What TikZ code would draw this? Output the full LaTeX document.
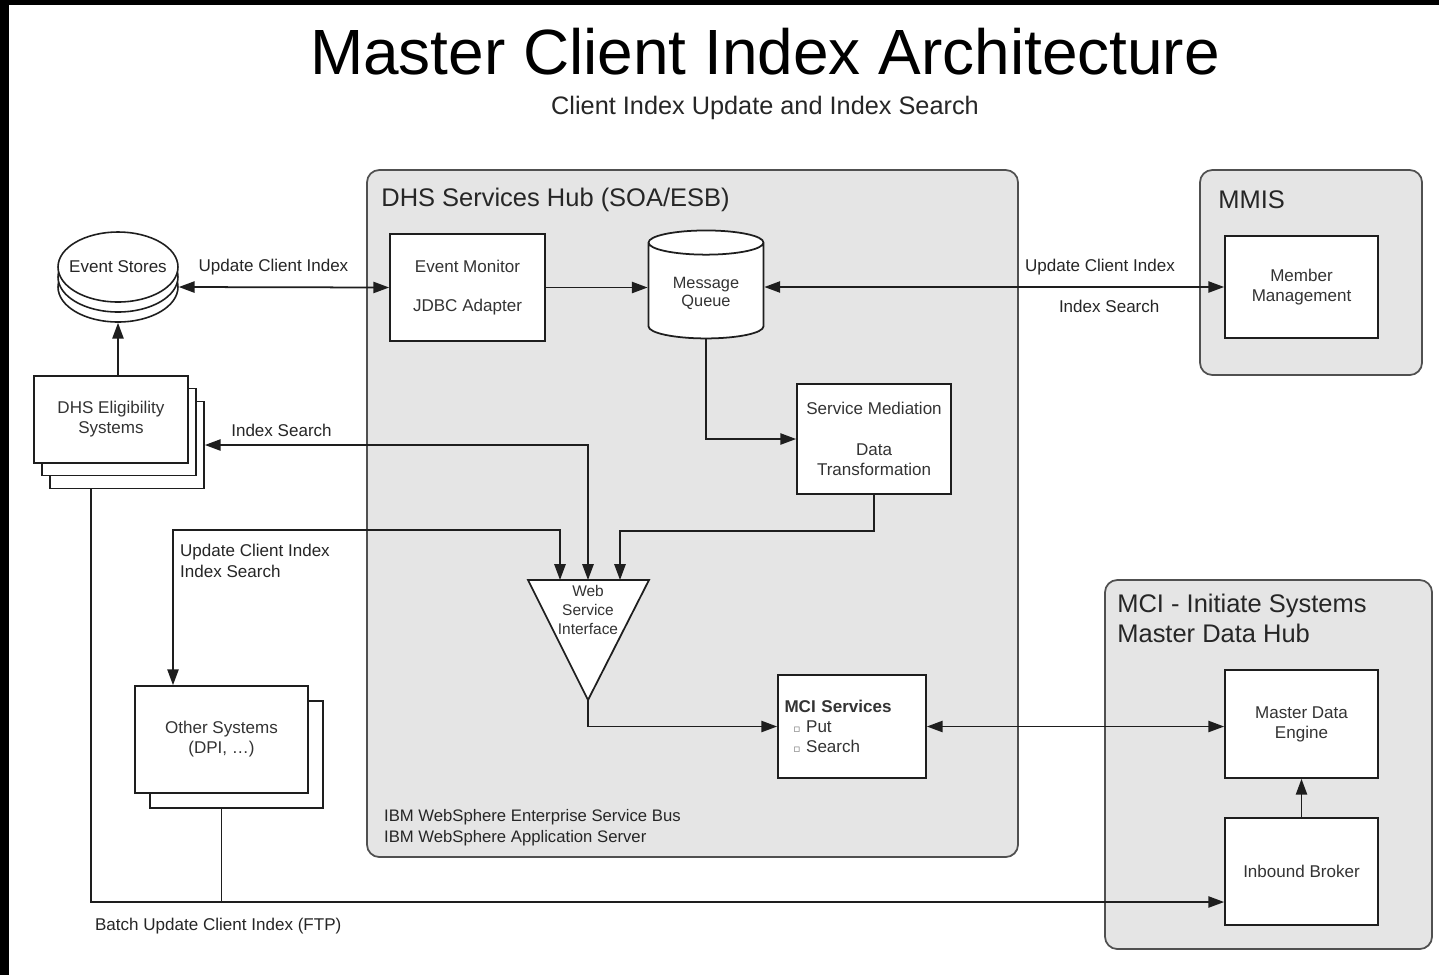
\documentclass[tikz,border=0pt]{standalone}
\usepackage{fontspec}
\setmainfont{Liberation Sans}
\newfontfamily\bulletfont{DejaVu Sans}
\usetikzlibrary{calc}
\usetikzlibrary{positioning}
\usetikzlibrary{shapes.geometric}
\usetikzlibrary{arrows.meta}
\definecolor{hub-gray}{RGB}{229, 229, 229}
\definecolor{edge-gray}{RGB}{80, 80, 80}
\definecolor{line-black}{RGB}{30, 30, 30}

\tikzset{
    hub/.style={fill=hub-gray, draw=edge-gray, line width=1pt, rounded corners=7pt},
    hubtitle/.style={anchor=west, inner sep=0pt, font=\fontsize{14.5}{17}\selectfont, text=black!85},
    box/.style={draw=line-black, fill=white, line width=1pt, inner sep=2pt, align=center, font=\fontsize{9.7}{11.4}\selectfont, text=black!80},
    store/.style={ellipse, draw=line-black, fill=white, line width=0.9pt, minimum width=2.4cm, minimum height=1.4cm, inner sep=0pt},
    lbl/.style={font=\fontsize{9.7}{12}\selectfont, text=black!85, inner sep=1pt},
    plain/.style={draw=line-black, line width=1pt},
    link/.style={plain, arrows={-Triangle[length=9pt, width=6.4pt]}},
    dlink/.style={plain, arrows={Triangle[length=9pt, width=6.4pt]-Triangle[length=9pt, width=6.4pt]}},
}

\begin{document}
\begin{tikzpicture}[x=0.02cm, y=-0.02cm]
    \useasboundingbox (0,0) rectangle (1439,975);
    \fill[white] (0,0) rectangle (1439,975);
    \fill[black] (0,0) rectangle (1439,5);
    \fill[black] (0,0) rectangle (9,975);

    \node[font=\fontsize{36.4}{40}\selectfont] (title) at (765,52) {Master Client Index Architecture};
    \node[font=\fontsize{14.4}{17}\selectfont, text=black!85] (subtitle) at (765,108) {Client Index Update and Index Search};

    % containers
    \draw[hub] (367,170) rectangle (1018,857);
    \draw[hub] (1200,170) rectangle (1422,375);
    \draw[hub] (1105,580) rectangle (1432,949);
    \node[hubtitle] (hub-title) at (381,200) {DHS Services Hub (SOA/ESB)};
    \node[hubtitle] (mmis-title) at (1218,200) {MMIS};
    \node[hubtitle, anchor=north west, align=left] (mci-title) at (1117,594) {MCI - Initiate Systems\\Master Data Hub};
    \node[lbl, anchor=north west, align=left, font=\fontsize{9.5}{12}\selectfont] (platform) at (382,807) {IBM WebSphere Enterprise Service Bus\\IBM WebSphere Application Server};

    % left side
    \node[store] (store3) at (118,287) {};
    \node[store] (store2) at (118,277) {};
    \node[store, label={[lbl]center:Event Stores}] (store) at (118,267) {};
    \node[box, minimum width=3.08cm, minimum height=1.74cm] (elig3) at (127,445) {};
    \node[box, minimum width=3.08cm, minimum height=1.74cm] (elig2) at (119,432) {};
    \node[box, minimum width=3.08cm, minimum height=1.74cm] (elig) at (111,419.5) {DHS Eligibility\\Systems};
    \node[box, minimum width=3.46cm, minimum height=2.14cm] (others2) at (236.5,754.5) {};
    \node[box, minimum width=3.46cm, minimum height=2.14cm] (others) at (221.5,739.5) {Other Systems\\(DPI, …)};

    % hub
    \node[box, minimum width=3.1cm, minimum height=2.14cm] (monitor) at (467.5,287.5) {Event Monitor\\[10.4pt]JDBC Adapter};
    \node[box, cylinder, shape border rotate=90, aspect=0.33, minimum width=2.3cm, minimum height=2.16cm, font=\fontsize{9.3}{10.3}\selectfont] (queue) at (706,293) {Message\\Queue};
    \node[box, minimum width=3.08cm, minimum height=2.2cm] (mediation) at (874,439) {Service Mediation\\[11.7pt]Data\\Transformation};
    \coordinate (wsi-nw) at (528,580);
    \coordinate (wsi-ne) at (649,580);
    \coordinate (wsi-apex) at (588,700);
    \coordinate (wsi-l) at (560,580);
    \coordinate (wsi-c) at (588,580);
    \coordinate (wsi-r) at (620,580);
    \draw[plain, fill=white] (wsi-nw) -- (wsi-ne) -- (wsi-apex) -- cycle;
    \node[align=center, inner sep=0pt, font=\fontsize{8.8}{10.8}\selectfont, text=black!80] (wsi) at (588,610) {Web\\Service\\Interface};
    \node[box, minimum width=2.96cm, minimum height=2.06cm, text width=2.7cm, align=left] (mci) at (852,726.5) {\textbf{MCI Services}\\\hspace*{5pt}{\bulletfont\fontsize{6}{8}\selectfont\color{black!55}▫} Put\\\hspace*{5pt}{\bulletfont\fontsize{6}{8}\selectfont\color{black!55}▫} Search};

    % right side
    \node[box, minimum width=3.06cm, minimum height=2.04cm] (member) at (1301.5,287) {Member\\Management};
    \node[box, minimum width=3.06cm, minimum height=2.16cm] (engine) at (1301.5,724) {Master Data\\Engine};
    \node[box, minimum width=3.06cm, minimum height=2.14cm] (broker) at (1301.5,871.5) {Inbound Broker};

    % connectors
    \draw[link] (store3.south |- elig.north) -- (store3.south);
    \draw[dlink] (store3.east) -- node[lbl, above=5.5pt, pos=0.45]{Update Client Index} (monitor.west);
    \draw[link] (monitor.east) -- (monitor.east -| queue.west);
    \draw[dlink] (member.west -| queue.east) -- node[lbl, above=5.5pt, pos=0.73]{Update Client Index} node[lbl, below=5.7pt, pos=0.75]{Index Search} (member.west);
    \draw[link] (queue.south) |- (mediation.west);
    \draw[link] (mediation.south) -- ++(0,36) -| (wsi-r);
    \draw[dlink] (elig3.east) -| node[lbl, above=3.5pt, pos=0.1]{Index Search} (wsi-c);
    \coordinate (upd) at (173,530);
    \draw[dlink] (others.north -| upd) -- (upd) -| (wsi-l);
    \node[lbl, anchor=north west, align=left] (upd-label) at (178,542) {Update Client Index\\Index Search};
    \draw[link] (wsi-apex) |- (mci.west);
    \draw[dlink] (mci.east) -- (mci.east -| engine.west);
    \draw[link] (broker.north) -- (engine.south);
    \coordinate (batch) at (91,902);
    \draw[link] (elig3.south -| batch) -- (batch) -- (batch -| broker.west);
    \draw[plain] (others2.south -| others.south) -- (others.south |- batch);
    \node[lbl, anchor=west] (batch-label) at (93,926.5) {Batch Update Client Index (FTP)};
\end{tikzpicture}
\end{document}
